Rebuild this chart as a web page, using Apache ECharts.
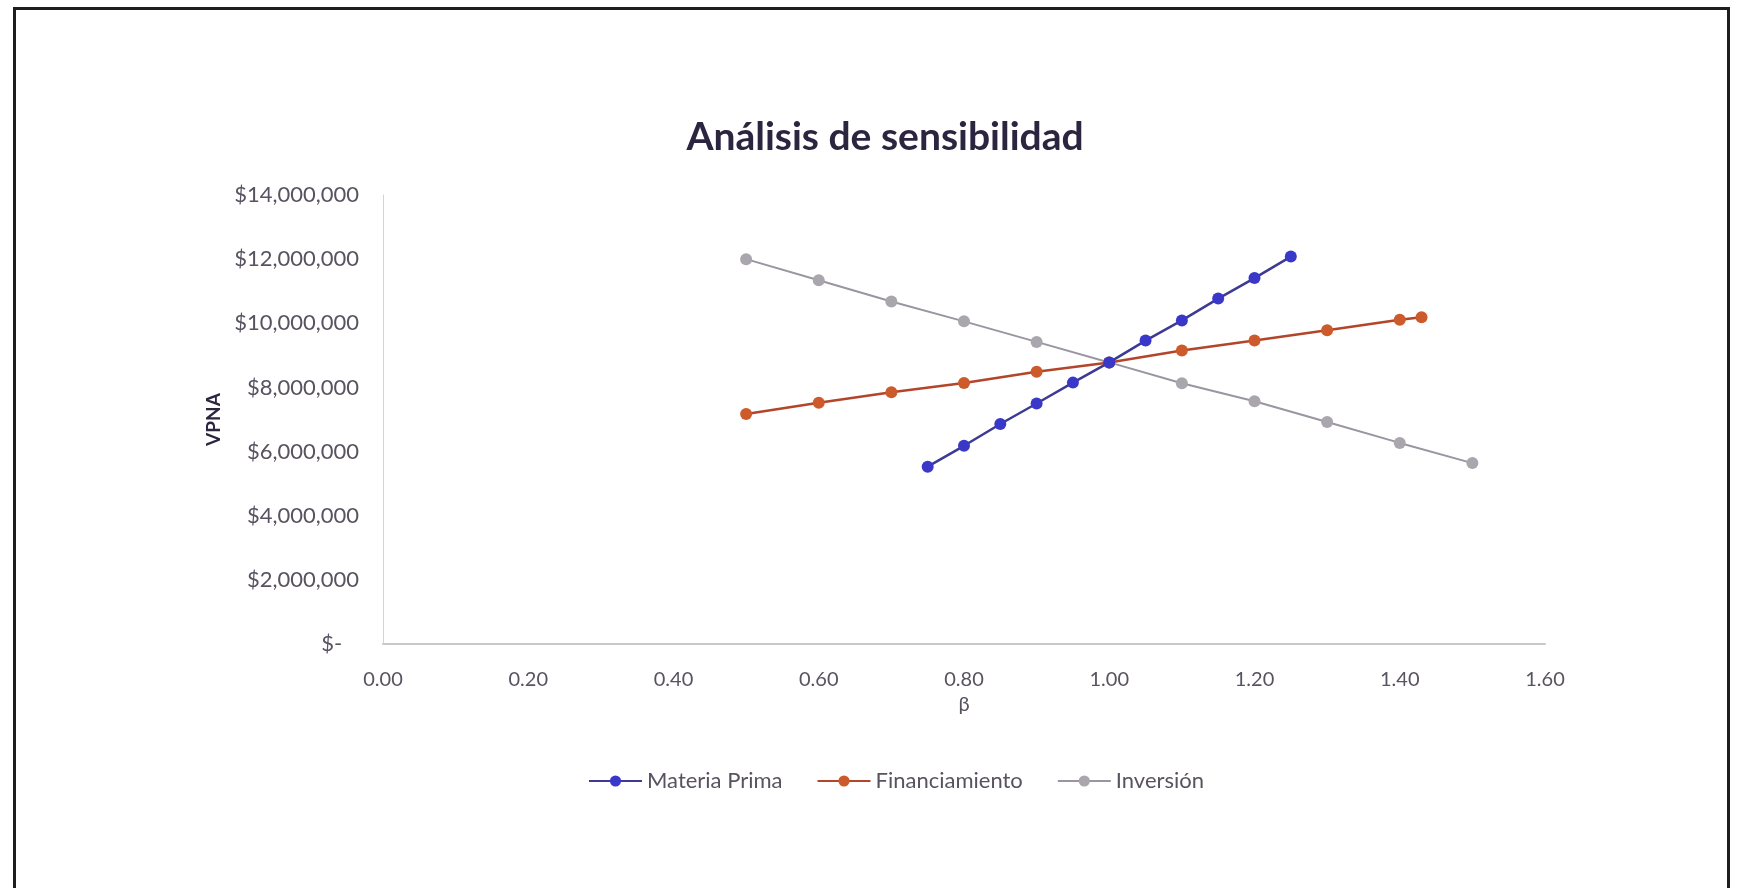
<!DOCTYPE html>
<html>
<head>
<meta charset="utf-8">
<script src="https://cdn.jsdelivr.net/npm/echarts@6/dist/echarts.min.js"></script>
<style>
  html, body { margin: 0; padding: 0; background: #ffffff; }
  #chart { width: 1737px; height: 888px; }
</style>
</head>
<body>
<div id="chart"></div>
<script>
// Sensitivity of VPNA to each factor (β multiplier)
const materiaBeta = [0.75, 0.80, 0.85, 0.90, 0.95, 1.00, 1.05, 1.10, 1.15, 1.20, 1.25];
const materiaVPNA = [5530000, 6180000, 6860000, 7500000, 8150000, 8780000, 9460000, 10090000, 10770000, 11410000, 12080000];

const financBeta = [0.50, 0.60, 0.70, 0.80, 0.90, 1.00, 1.10, 1.20, 1.30, 1.40, 1.43];
const financVPNA = [7170000, 7520000, 7850000, 8140000, 8490000, 8780000, 9150000, 9460000, 9780000, 10110000, 10190000];

const inverBeta = [0.50, 0.60, 0.70, 0.80, 0.90, 1.00, 1.10, 1.20, 1.30, 1.40, 1.50];
const inverVPNA = [12000000, 11340000, 10680000, 10060000, 9420000, 8780000, 8130000, 7570000, 6920000, 6270000, 5640000];

const seriesNames = ['Materia Prima', 'Financiamiento', 'Inversión'];
const xTicks = { min: 0, max: 1.6, step: 0.2 };
const yTicks = { min: 0, max: 14000000, step: 2000000 };

const pairs = (xs, ys) => xs.map((x, i) => [x, ys[i]]);

const fontFamily = 'Lato, "Open Sans", sans-serif';
const labelColor = '#595260';

function money(v) {
  if (v === 0) return '$-   ';
  return '$' + v.toLocaleString('en-US');
}

const chart = echarts.init(document.getElementById('chart'));

chart.setOption({
  backgroundColor: '#ffffff',
  animation: false,
  title: {
    text: 'Análisis de sensibilidad',
    left: 880,
    textAlign: 'center',
    top: 113,
    textStyle: { fontFamily: fontFamily, fontSize: 39, fontWeight: 'bold', color: '#2c2540' }
  },
  graphic: [{
    type: 'rect',
    left: 12, top: 6,
    shape: { width: 1714, height: 920 },
    style: { fill: 'none', stroke: '#1e1e1e', lineWidth: 3 },
    silent: true
  }],
  legend: {
    data: seriesNames,
    left: 583,
    top: 765,
    itemWidth: 53,
    itemHeight: 14,
    itemGap: 34,
    textStyle: { fontFamily: fontFamily, fontSize: 22, color: labelColor }
  },
  grid: { left: 383, right: 192, top: 195, bottom: 244, containLabel: false },
  xAxis: {
    type: 'value',
    min: xTicks.min, max: xTicks.max, interval: xTicks.step,
    name: 'β',
    nameLocation: 'middle',
    nameGap: 46,
    nameTextStyle: { fontFamily: fontFamily, fontSize: 20, color: labelColor },
    axisLine: { show: true, lineStyle: { color: '#c8c8c8', width: 2 } },
    axisTick: { show: false },
    splitLine: { show: false },
    axisLabel: {
      margin: 26,
      fontFamily: fontFamily, fontSize: 20, color: labelColor,
      formatter: v => v.toFixed(2)
    }
  },
  yAxis: {
    type: 'value',
    min: yTicks.min, max: yTicks.max, interval: yTicks.step,
    name: 'VPNA',
    nameLocation: 'middle',
    nameGap: 153,
    nameRotate: 90,
    nameTextStyle: { fontFamily: fontFamily, fontSize: 19, fontWeight: 'bold', color: '#2c2540' },
    axisLine: { show: true, lineStyle: { color: '#d4d4d4', width: 1 } },
    axisTick: { show: false },
    splitLine: { show: false },
    axisLabel: {
      margin: 24,
      fontFamily: fontFamily, fontSize: 22, color: labelColor,
      formatter: money
    }
  },
  series: [
    {
      name: seriesNames[0],
      type: 'line',
      data: pairs(materiaBeta, materiaVPNA),
      symbol: 'circle', symbolSize: 12,
      lineStyle: { color: '#3c3a92', width: 2.5 },
      itemStyle: { color: '#3a38c8' },
      z: 3
    },
    {
      name: seriesNames[1],
      type: 'line',
      data: pairs(financBeta, financVPNA),
      symbol: 'circle', symbolSize: 12,
      lineStyle: { color: '#b2452a', width: 2.5 },
      itemStyle: { color: '#cc5a2a' },
      z: 2
    },
    {
      name: seriesNames[2],
      type: 'line',
      data: pairs(inverBeta, inverVPNA),
      symbol: 'circle', symbolSize: 12,
      lineStyle: { color: '#9a95a0', width: 2 },
      itemStyle: { color: '#aaa6ad' },
      z: 1
    }
  ]
});
</script>
</body>
</html>
